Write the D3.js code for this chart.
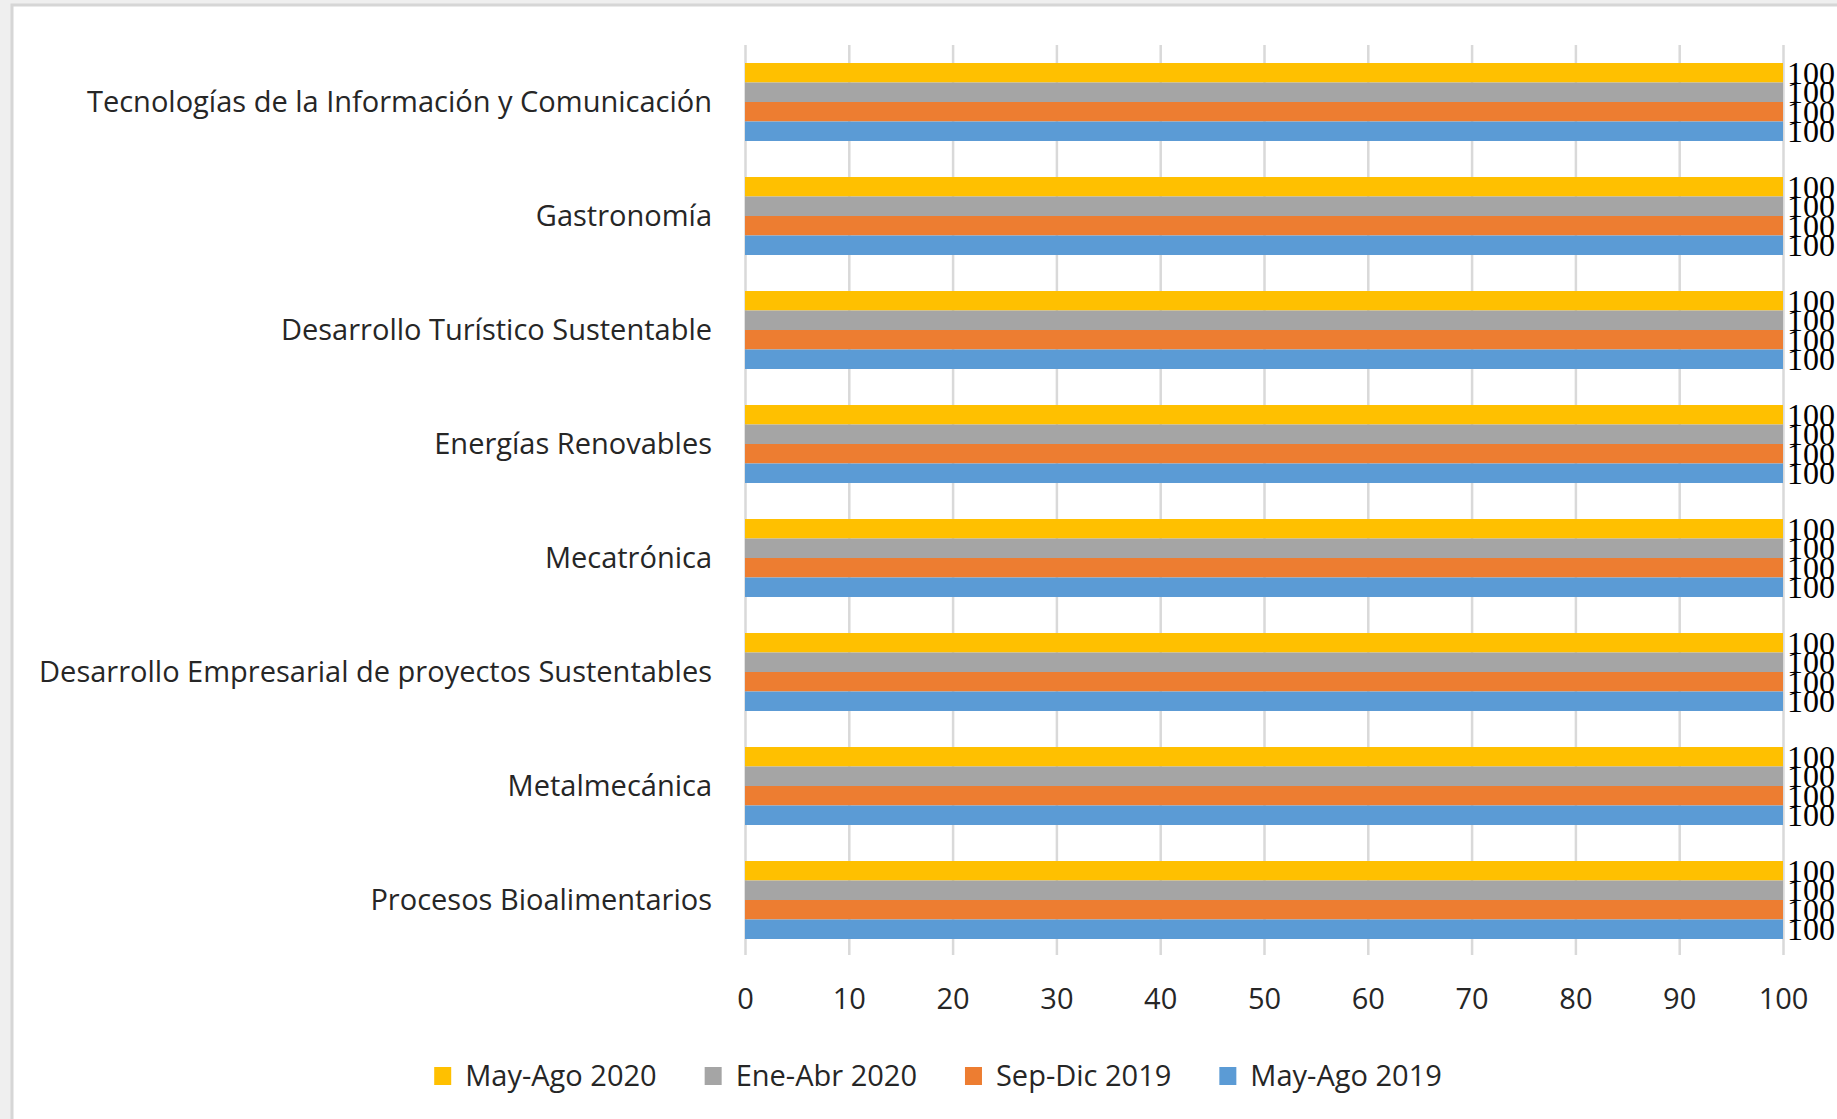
<!DOCTYPE html>
<html>
<head>
<meta charset="utf-8">
<script src="https://cdn.jsdelivr.net/npm/d3@7"></script>
<style>
  body { margin: 0; background: #ffffff; }
  svg { display: block; }
  .lbl { font-family: "Open Sans", "Noto Sans", sans-serif; fill: #262626; }
  .val { font-family: "Liberation Serif", serif; fill: #000000; }
</style>
</head>
<body>
<div id="chart"></div>
<script>
// categories, top to bottom
var categories = [
  "Tecnologías de la Información y Comunicación",
  "Gastronomía",
  "Desarrollo Turístico Sustentable",
  "Energías Renovables",
  "Mecatrónica",
  "Desarrollo Empresarial de proyectos Sustentables",
  "Metalmecánica",
  "Procesos Bioalimentarios"
];

// series, in legend order (also top to bottom inside each group)
var seriesNames = ["May-Ago 2020", "Ene-Abr 2020", "Sep-Dic 2019", "May-Ago 2019"];
var seriesColors = ["#FFC000", "#A5A5A5", "#ED7D31", "#5B9BD5"];

var mayAgo2020 = [100, 100, 100, 100, 100, 100, 100, 100];
var eneAbr2020 = [100, 100, 100, 100, 100, 100, 100, 100];
var sepDic2019 = [100, 100, 100, 100, 100, 100, 100, 100];
var mayAgo2019 = [100, 100, 100, 100, 100, 100, 100, 100];
var seriesValues = [mayAgo2020, eneAbr2020, sepDic2019, mayAgo2019];

var xTicks = [0, 10, 20, 30, 40, 50, 60, 70, 80, 90, 100];

//Layout
var width = 1837, height = 1119;
var plotLeft = 745, plotRight = 1783;
var plotTop = 45, plotBottom = 957;
var gridBottom = 955;
var fontSize = 29;

var svg = d3.select("#chart").append("svg")
    .attr("width", width)
    .attr("height", height);

//page background and chart frame
svg.append("rect")
    .attr("width", width).attr("height", height)
    .attr("fill", "#efefef");
svg.append("rect")
    .attr("x", 12).attr("y", 5)
    .attr("width", width + 20).attr("height", height + 20)
    .attr("fill", "#ffffff")
    .attr("stroke", "#d6d6d6")
    .attr("stroke-width", 3);

var x = d3.scaleLinear().domain([0, 100]).range([plotLeft, plotRight]);

var y = d3.scaleBand()
    .domain(categories)
    .range([plotTop, plotBottom])
    .paddingInner(0.316)
    .paddingOuter(0.158);

var ySub = d3.scaleBand()
    .domain(seriesNames)
    .range([0, y.bandwidth()]);

//gridlines and tick labels
var axis = d3.axisBottom(x)
    .tickValues(xTicks)
    .tickSize(-(gridBottom - plotTop))
    .tickFormat(d3.format("d"));

var gAxis = svg.append("g")
    .attr("transform", "translate(0," + gridBottom + ")")
    .call(axis);
gAxis.select(".domain").remove();
gAxis.selectAll(".tick line")
    .attr("stroke", "#d9d9d9")
    .attr("stroke-width", 2.5);
gAxis.selectAll(".tick text")
    .attr("class", "lbl")
    .attr("y", 54)
    .attr("dy", null)
    .style("font-size", fontSize + "px");

//bars
var groups = svg.append("g").selectAll("g")
    .data(categories)
    .join("g")
    .attr("transform", function (d) { return "translate(0," + y(d) + ")"; });

groups.selectAll("rect")
    .data(function (d, i) {
        return seriesNames.map(function (s, j) {
            return { series: s, value: seriesValues[j][i], color: seriesColors[j] };
        });
    })
    .join("rect")
    .attr("x", x(0))
    .attr("y", function (d) { return ySub(d.series); })
    .attr("width", function (d) { return x(d.value) - x(0); })
    .attr("height", ySub.bandwidth())
    .attr("fill", function (d) { return d.color; });

//data labels (they overlap in the original too)
groups.selectAll("text.val")
    .data(function (d, i) {
        return seriesNames.map(function (s, j) {
            return { series: s, value: seriesValues[j][i] };
        });
    })
    .join("text")
    .attr("class", "val")
    .attr("x", function (d) { return x(d.value) + 4; })
    .attr("y", function (d) { return ySub(d.series) + ySub.bandwidth() / 2; })
    .attr("dy", "0.34em")
    .style("font-size", "32px")
    .text(function (d) { return d.value; });

//category labels
svg.append("g").selectAll("text")
    .data(categories)
    .join("text")
    .attr("class", "lbl")
    .attr("x", 712)
    .attr("y", function (d) { return y(d) + y.bandwidth() / 2; })
    .attr("dy", "0.35em")
    .attr("text-anchor", "end")
    .style("font-size", fontSize + "px")
    .text(function (d) { return d; });

//legend
var legend = svg.append("g");
var items = legend.selectAll("g")
    .data(seriesNames)
    .join("g");
items.append("rect")
    .attr("y", 1067)
    .attr("width", 17)
    .attr("height", 18)
    .attr("fill", function (d, i) { return seriesColors[i]; });
items.append("text")
    .attr("class", "lbl")
    .attr("x", 31)
    .attr("y", 1086)
    .style("font-size", fontSize + "px")
    .text(function (d) { return d; });

var legendX = 0;
items.each(function () {
    var w = d3.select(this).select("text").node().getComputedTextLength();
    d3.select(this).attr("transform", "translate(" + legendX + ",0)");
    legendX += 31 + w + 48;
});
legendX -= 48;
legend.attr("transform", "translate(" + (938 - legendX / 2) + ",0)");
</script>
</body>
</html>
